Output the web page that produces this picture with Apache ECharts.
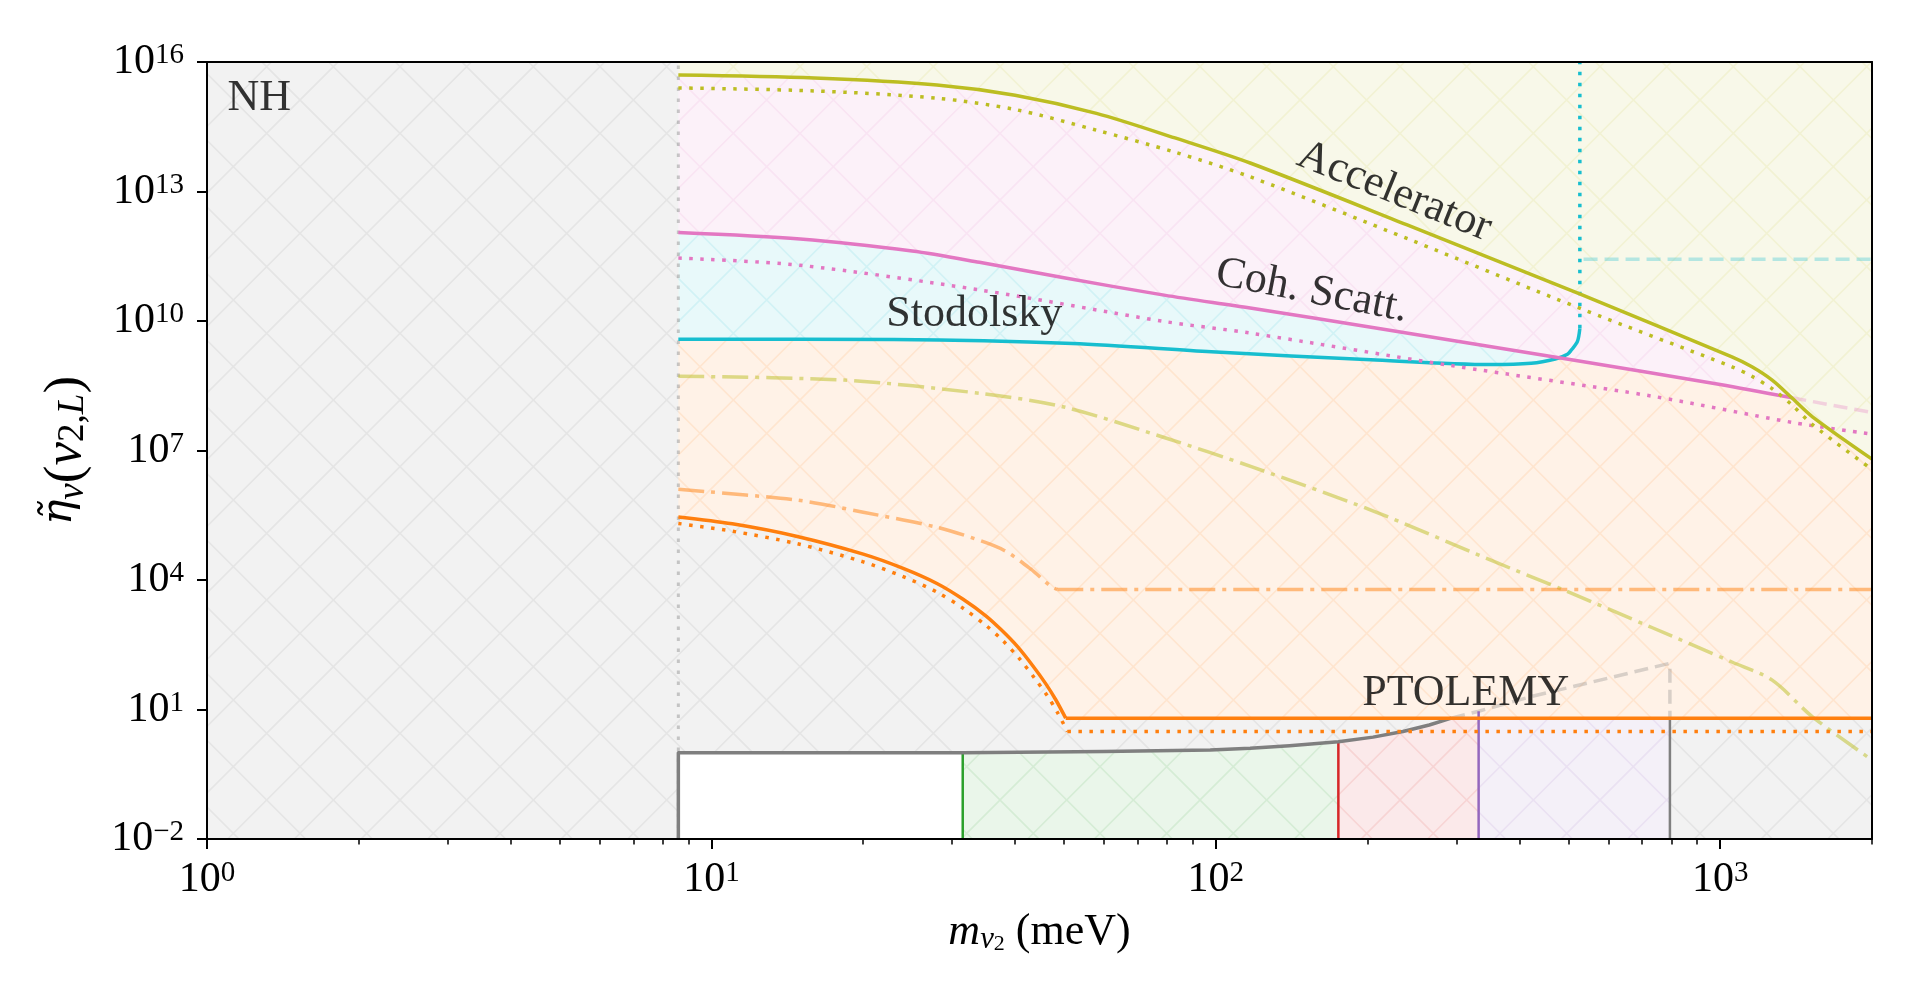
<!DOCTYPE html>
<html>
<head>
<meta charset="utf-8">
<script src="https://cdn.jsdelivr.net/npm/echarts@6/dist/echarts.min.js"></script>
<style>
  html, body { margin: 0; padding: 0; background: #fff; }
  #chart { width: 1920px; height: 1001px; }
</style>
</head>
<body>
<div id="chart"></div>
<script>
// ===== axes =====
const xMajor = [1, 10, 100, 1000];
const xMinor = [2,3,4,5,6,7,8,9, 20,30,40,50,60,70,80,90, 200,300,400,500,600,700,800,900, 2000];
const yMajor = [1e-2, 1e1, 1e4, 1e7, 1e10, 1e13, 1e16];
const xRange = [1, 2000];
const yRange = [1e-2, 1e16];

// ===== curves: [m_nu2 (meV), eta] =====
const mMin = 8.6;
const accelerator    = [[8.6,5.01e15],[16,4.27e15],[28,2.95e15],[40,1.70e15],[58,6.46e14],[83,1.74e14],[117,4.57e13],[243,1.58e12],[528,4.17e10],[1055,1.48e9],[1156,8.71e8],[1268,4.27e8],[1390,1.62e8],[1524,6.03e7],[2000,6.31e6]];
const acceleratorDot = [[8.6,2.51e15],[16,2.14e15],[28,1.45e15],[40,7.94e14],[58,2.63e14],[83,8.13e13],[117,2.19e13],[243,7.59e11],[528,1.95e10],[1055,8.71e8],[1156,5.25e8],[1268,2.69e8],[1390,1.12e8],[1524,3.98e7],[2000,3.63e6]];
const cohScatt       = [[8.6,1.12e12],[15,7.94e11],[25,4.17e11],[34,2.29e11],[50,1.00e11],[79,3.98e10],[117,2.00e10],[212,6.61e9],[507,1.26e9],[1000,3.39e8],[1390,1.66e8]];
const cohScattTail   = [[1390,1.66e8],[2000,7.59e7]];
const cohScattDot    = [[8.6,2.88e11],[15,1.95e11],[34,5.25e10],[79,9.77e9],[117,5.25e9],[292,9.33e8],[732,1.82e8],[1390,4.47e7],[2000,2.40e7]];
const stodolsky      = [[8.6,3.80e9],[23,3.72e9],[52,3.02e9],[98,1.95e9],[203,1.26e9],[351,9.77e8],[422,1.05e9],[471,1.32e9],[498,1.70e9],[507,2.14e9],[521,3.31e9],[527,6.76e9]];
const stodolskyUp    = [[527,6.76e9],[527,1e16]];
const stodolskyHigh  = [[536,2.69e11],[2000,2.69e11]];
const oliveDashDot   = [[8.6,5.25e8],[18.3,4.27e8],[34.3,2.09e8],[50,1.02e8],[79,2.00e7],[118,4.17e6],[203,4.17e5],[351,2.88e4],[489,5.89e3],[732,794],[1055,126],[1268,47.9],[1524,6.76],[2000,0.676]];
const orangeDashDot  = [[8.6,1.26e6],[14.8,7.08e5],[20,3.72e5],[27.8,1.70e5],[33,9.33e4],[38,4.90e4],[43,1.78e4],[47,7.24e3],[48.5,6.03e3],[2000,6.03e3]];
const orange         = [[8.6,2.88e5],[11,2.00e5],[14.8,1.02e5],[20,3.98e4],[24,1.86e4],[28,8.32e3],[31.5,3.63e3],[35,1.48e3],[37.6,692],[40.5,282],[43.4,102],[46,39.8],[48.2,16.6],[50.4,6.31],[2000,6.31]];
const orangeDot      = [[8.6,2.04e5],[11,1.35e5],[14.8,6.92e4],[20,2.63e4],[24,1.20e4],[28,5.25e3],[31.6,2.19e3],[35,891],[37.8,398],[40.8,151],[43.7,53.7],[46.4,20.4],[48.6,8.32],[50.8,3.09],[2000,3.09]];
const ptolemy        = [[8.6,0.01],[8.6,1],[31.5,1],[60,1.07],[97.5,1.15],[117,1.26],[140,1.45],[175,1.78],[205,2.29],[235,3.09],[265,4.37],[293,6.31],[332,9.12],[422,19.95],[795,117.5]];
const ptolemyCut     = 293;                       // solid below, dashed above
const ptolemyEdges   = [8.6, 31.5, 175, 332, 795]; // white | green | red | purple bands

// ===== labels =====
const labels = [
  {text:'NH',          at:[1.27, 1.46e15], rotate:0},
  {text:'Accelerator', at:[226, 9.9e12],   rotate:-22},
  {text:'Coh. Scatt.', at:[155, 4.9e10],   rotate:-11},
  {text:'Stodolsky',   at:[33.2, 1.45e10], rotate:0},
  {text:'PTOLEMY',     at:[313, 23.4],     rotate:0}
];

// ===== styles =====
const F = "'Liberation Serif','DejaVu Serif',serif";
const C = {grey:'#7f7f7f', orange:'#ff7f0e', cyan:'#17becf', pink:'#e377c2', olive:'#bcbd22', green:'#2ca02c', red:'#d62728', purple:'#9467bd'};
const DOT = [3.5, 7.5], DASH = [14, 7], DASHDOT = [26, 7, 4, 7];
const SMOOTH = 0.3;

function tint(hex, a){
  const n = parseInt(hex.slice(1),16), r = n>>16, g = (n>>8)&255, b = n&255;
  const m = c => Math.round(255-(255-c)*a);
  return `rgb(${m(r)},${m(g)},${m(b)})`;
}
function rgba(hex, a){
  const n = parseInt(hex.slice(1),16);
  return `rgba(${n>>16},${(n>>8)&255},${n&255},${a})`;
}
// 'x' hatch tile, period 200/3 px
function hatch(hex){
  const c = document.createElement('canvas'); c.width = c.height = 200;
  const g = c.getContext('2d');
  g.fillStyle = tint(hex,0.1); g.fillRect(0,0,200,200);
  g.strokeStyle = tint(hex,0.2); g.lineWidth = 1.6;
  const p = 200/3;
  g.beginPath();
  for(let k=-4;k<=7;k++){
    g.moveTo(k*p,0); g.lineTo(k*p+200,200);
    g.moveTo(k*p,0); g.lineTo(k*p-200,200);
  }
  g.stroke();
  return {image:c, repeat:'repeat'};
}

function fill(data, color, origin, smooth){
  return {type:'line', data, symbol:'none', silent:true, z:1, smooth:smooth||false,
    lineStyle:{width:0, opacity:0},
    areaStyle:{color, opacity:1, origin}};
}
function line(data, color, width, type, smooth){
  return {type:'line', data, symbol:'none', silent:true, z:3, smooth:smooth||false,
    lineStyle:{color, width, type:type||'solid', cap:'butt', join:'round'}};
}
// curve with a long flat tail: smooth the bend, keep the tail straight
function bent(data, color, width, type){
  const k = data.length-1;
  return [line(data.slice(0,k), color, width, type, SMOOTH), line(data.slice(k-1), color, width, type)];
}
const band = (lo,hi) => ptolemy.filter(p => p[0]>=lo && p[0]<=hi);
const yAt = x => ptolemy.find(p => p[0]===x)[1];
const orangeFlat = orange[orange.length-1][1];

// ===== chart =====
const chart = echarts.init(document.getElementById('chart'), null, {renderer:'canvas'});

const tickRich = {
  b:{fontFamily:F, fontSize:42, lineHeight:42, verticalAlign:'bottom', color:'#000'},
  s:{fontFamily:F, fontSize:29, lineHeight:29, verticalAlign:'top', padding:[0,0,18,0], color:'#000'}
};
const pow10 = v => { const e = Math.round(Math.log10(v)); return '{b|10}{s|'+(e<0?'\u2212'+(-e):e)+'}'; };
function nameRich(size){
  const s = size*0.7, t = size*0.5, pad = Math.round(size*0.16);
  return {
    g:{fontFamily:"'DejaVu Serif',serif", fontStyle:'italic', fontSize:size*0.8, lineHeight:size, padding:[0,0,pad,0], verticalAlign:'top', color:'#000'},
    i:{fontFamily:F, fontStyle:'italic', fontSize:size, lineHeight:size, padding:[0,0,pad,0], verticalAlign:'top', color:'#000'},
    r:{fontFamily:F, fontSize:size, lineHeight:size, padding:[0,0,pad,0], verticalAlign:'top', color:'#000'},
    s1:{fontFamily:F, fontStyle:'italic', fontSize:s, lineHeight:s, verticalAlign:'bottom', color:'#000'},
    s1r:{fontFamily:F, fontSize:s, lineHeight:s, verticalAlign:'bottom', color:'#000'},
    s2:{fontFamily:F, fontSize:t, lineHeight:t, verticalAlign:'bottom', color:'#000'}
  };
}
const spine = {show:true, onZero:false, lineStyle:{color:'#000', width:2}};
const bare = {axisTick:{show:false}, axisLabel:{show:false}, splitLine:{show:false}};

const ptolemySolid = ptolemy.filter(p => p[0]<=ptolemyCut);
const ptolemyDash  = ptolemy.filter(p => p[0]>=ptolemyCut).concat([[795, orangeFlat]]);
const e = ptolemyEdges;

chart.setOption({
  animation:false,
  backgroundColor:'#fff',
  grid:{left:207, right:48, top:62, bottom:162, containLabel:false, outerBoundsMode:'none'},
  xAxis:[
    {type:'log', logBase:10, min:xRange[0], max:xRange[1], position:'bottom', z:10,
      axisLine:spine,
      axisTick:{show:true, length:10, customValues:xMajor, lineStyle:{color:'#000', width:2}},
      axisLabel:{customValues:xMajor, formatter:pow10, rich:tickRich, margin:20},
      splitLine:{show:false}, minorTick:{show:false},
      name:'{i|m}{s1|\u03bd}{s2|2}{r| (meV)}', nameLocation:'middle', nameGap:70,
      nameTextStyle:{rich:nameRich(44)}},
    {type:'log', logBase:10, min:xRange[0], max:xRange[1], position:'bottom', z:10,
      axisLine:{show:false},
      axisTick:{show:true, length:5.5, customValues:xMinor, lineStyle:{color:'#000', width:1.5}},
      axisLabel:{show:false}, splitLine:{show:false}},
    Object.assign({type:'log', logBase:10, min:xRange[0], max:xRange[1], position:'top', z:10, axisLine:spine}, bare)
  ],
  yAxis:[
    {type:'log', logBase:10, min:yRange[0], max:yRange[1], position:'left', z:10,
      axisLine:spine,
      axisTick:{show:true, length:10, customValues:yMajor, lineStyle:{color:'#000', width:2}},
      axisLabel:{customValues:yMajor, formatter:pow10, rich:tickRich, margin:23},
      splitLine:{show:false}, minorTick:{show:false},
      name:'{g|\u03b7\u0303}{s1|\u03bd}{r|(}{i|\u03bd}{s1r|2,}{s1|L}{r|)}', nameLocation:'middle', nameRotate:90, nameGap:112,
      nameTextStyle:{rich:nameRich(53)}},
    Object.assign({type:'log', logBase:10, min:yRange[0], max:yRange[1], position:'right', z:10, axisLine:spine}, bare)
  ],
  series:[
    // regions
    fill([[xRange[0], yRange[1]], [xRange[1], yRange[1]]], hatch(C.grey), 'start'),
    fill(band(e[0], e[1]), '#ffffff', 'start'),
    fill(band(e[1], e[2]), hatch(C.green), 'start'),
    fill(band(e[2], e[3]), hatch(C.red), 'start'),
    fill(band(e[3], e[4]), hatch(C.purple), 'start'),
    fill(orange, hatch(C.orange), 'end'),
    fill(stodolsky, hatch(C.cyan), 'end', SMOOTH),
    fill(cohScatt, hatch(C.pink), 'end', SMOOTH),
    fill(accelerator, hatch(C.olive), 'end', SMOOTH),
    // lines
    line([[mMin, yRange[0]], [mMin, yRange[1]]], rgba(C.grey,0.4), 3, DOT),
    line(oliveDashDot, rgba(C.olive,0.5), 3.5, DASHDOT, SMOOTH),
    ...bent(orangeDashDot, rgba(C.orange,0.5), 3.5, DASHDOT),
    line(cohScattTail, rgba(C.pink,0.3), 3.5, DASH),
    line(stodolskyHigh, rgba(C.cyan,0.3), 3.5, DASH),
    line(ptolemyDash, rgba(C.grey,0.3), 3.5, DASH),
    line([[e[1], yRange[0]], [e[1], yAt(e[1])]], C.green, 2.5),
    line([[e[2], yRange[0]], [e[2], yAt(e[2])]], C.red, 2.5),
    line([[e[3], yRange[0]], [e[3], yAt(e[3])]], C.purple, 2.5),
    line([[e[4], yRange[0]], [e[4], orangeFlat]], C.grey, 2.5),
    line(ptolemySolid, C.grey, 3.5),
    ...bent(orangeDot, C.orange, 3.5, DOT),
    ...bent(orange, C.orange, 3.5, 'solid'),
    line(stodolskyUp, C.cyan, 3.5, DOT),
    line(stodolsky, C.cyan, 3.5, 'solid', SMOOTH),
    line(cohScattDot, C.pink, 3.5, DOT, SMOOTH),
    line(cohScatt, C.pink, 3.5, 'solid', SMOOTH),
    line(acceleratorDot, C.olive, 3.5, DOT, SMOOTH),
    line(accelerator, C.olive, 3.5, 'solid', SMOOTH),
    // text
    {type:'scatter', silent:true, z:6, symbolSize:0, itemStyle:{color:'transparent'},
      label:{show:true, position:'inside', fontFamily:F, fontSize:44, color:'#000', textBorderWidth:0},
      data: labels.map(l => ({value:l.at, label:{formatter:l.text, rotate:l.rotate}}))}
  ]
});

window.addEventListener('resize', () => chart.resize());
</script>
</body>
</html>
